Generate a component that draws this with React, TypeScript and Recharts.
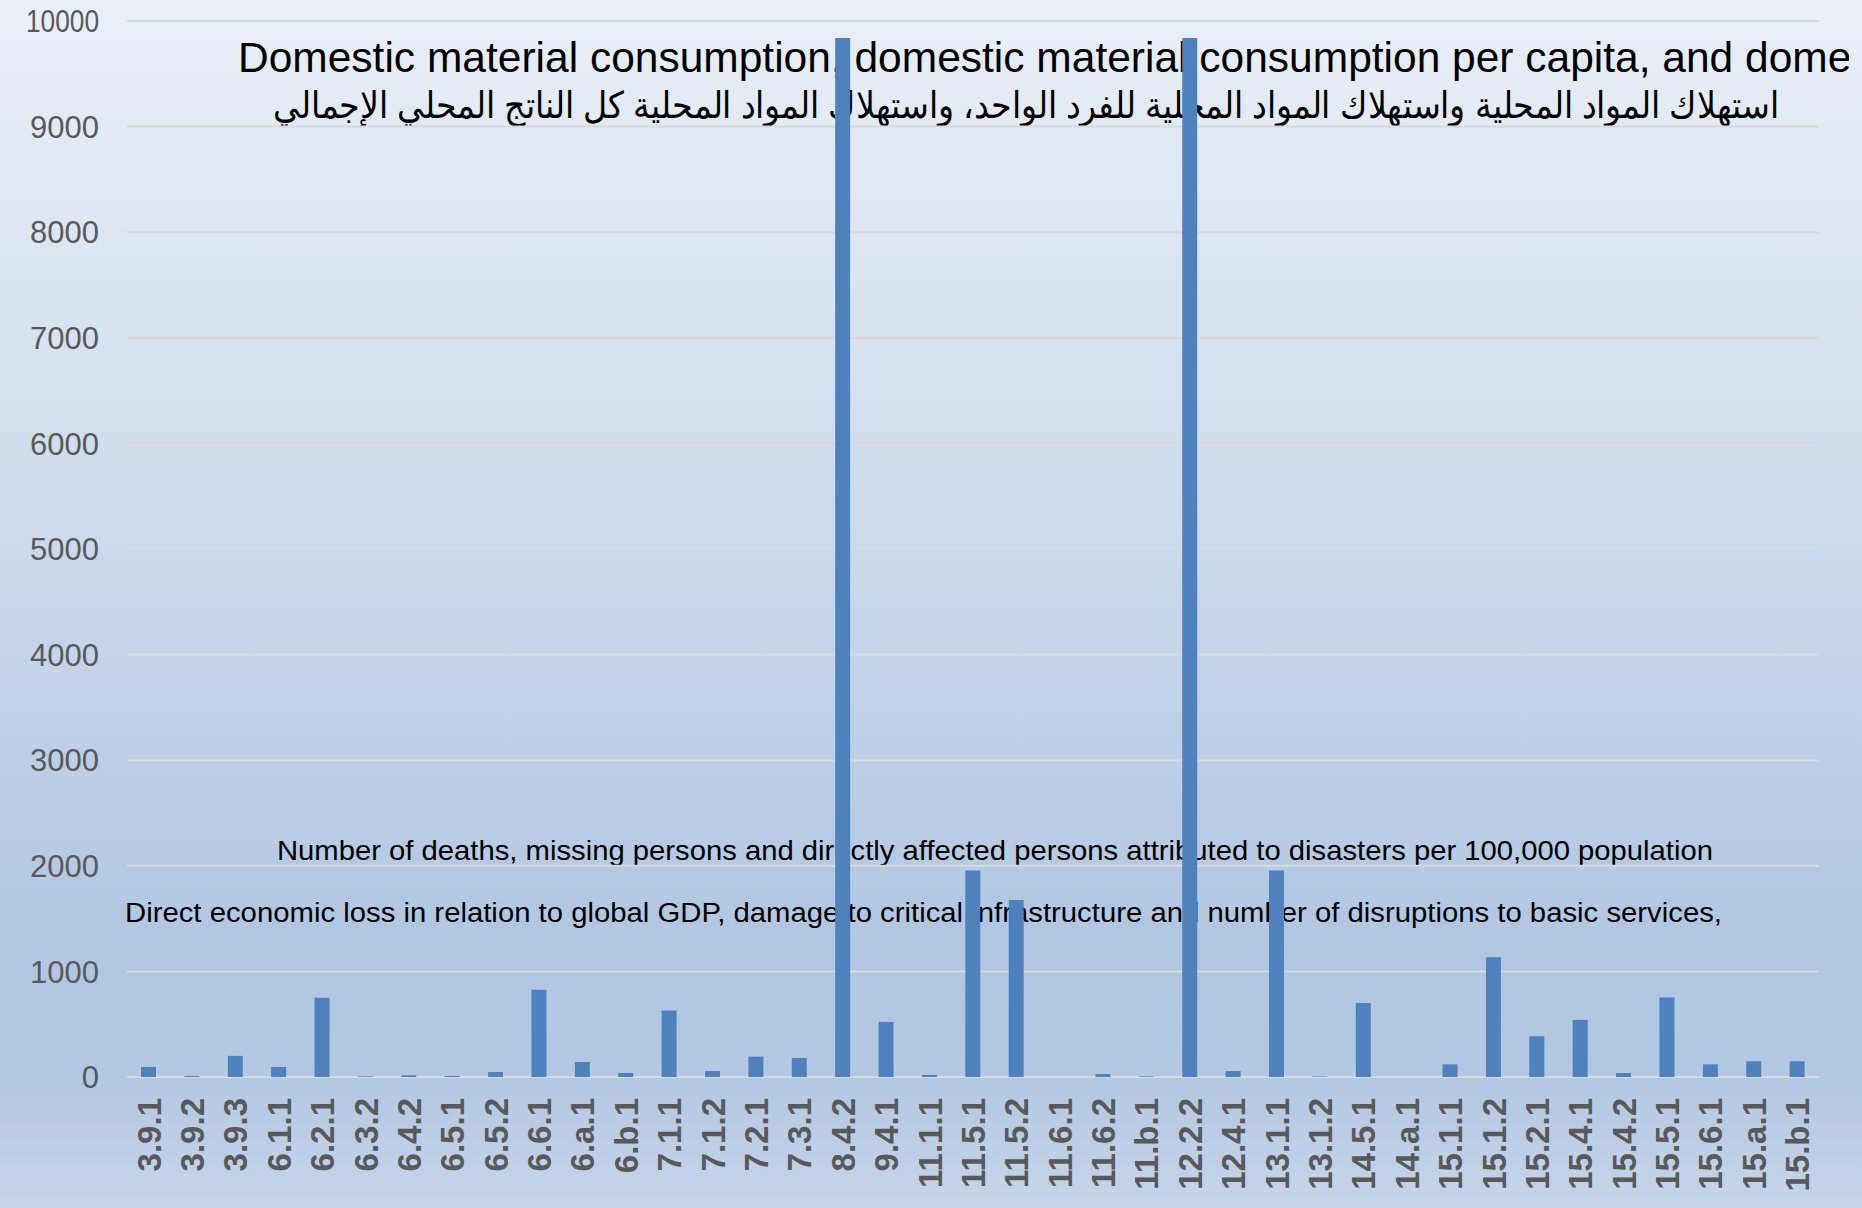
import { BarChart, Bar, XAxis, YAxis, CartesianGrid } from 'recharts'

const categories = [
  '3.9.1', '3.9.2', '3.9.3', '6.1.1', '6.2.1', '6.3.2', '6.4.2', '6.5.1', '6.5.2', '6.6.1',
  '6.a.1', '6.b.1', '7.1.1', '7.1.2', '7.2.1', '7.3.1', '8.4.2', '9.4.1', '11.1.1', '11.5.1',
  '11.5.2', '11.6.1', '11.6.2', '11.b.1', '12.2.2', '12.4.1', '13.1.1', '13.1.2', '14.5.1', '14.a.1',
  '15.1.1', '15.1.2', '15.2.1', '15.4.1', '15.4.2', '15.5.1', '15.6.1', '15.a.1', '15.b.1',
]

const values = [
  95, 10, 200, 95, 750, 6, 16, 10, 47, 826,
  142, 38, 630, 57, 193, 180, 9840, 522, 19, 1956,
  1675, 0, 28, 6, 9840, 57, 1956, 5, 700, 0,
  120, 1133, 386, 541, 38, 753, 120, 149, 149,
]

const yTicks = [0, 1000, 2000, 3000, 4000, 5000, 6000, 7000, 8000, 9000, 10000]

const titleEn =
  'Domestic material consumption, domestic material consumption per capita, and domestic material consumption per GDP'
const titleAr =
  'استهلاك المواد المحلية واستهلاك المواد المحلية للفرد الواحد، واستهلاك المواد المحلية كل الناتج المحلي الإجمالي'
const noteDeaths =
  'Number of deaths, missing persons and directly affected persons attributed to disasters per 100,000 population'
const noteLoss =
  'Direct economic loss in relation to global GDP, damage to critical infrastructure and number of disruptions to basic services,'

const data = categories.map((code, i) => ({ code, value: values[i] }))

const FONT = '"Liberation Sans", Arial, sans-serif'
const W = 1862
const H = 1208

function XTick({ x, y, payload }: any) {
  return (
    <text
      transform={`translate(${x},${y + 21}) rotate(-90)`}
      textAnchor="end"
      dy="0.36em"
      fill="#595959"
      fontSize={33}
      fontWeight="bold"
      fontFamily={FONT}
    >
      {payload.value}
    </text>
  )
}

function YTick({ x, y, payload }: any) {
  const label = String(payload.value)
  return (
    <text
      x={x}
      y={y}
      dy="0.36em"
      textAnchor="end"
      fill="#595959"
      fontSize={31}
      fontFamily={FONT}
      textLength={label.length > 4 ? 73 : undefined}
      lengthAdjust="spacingAndGlyphs"
    >
      {label}
    </text>
  )
}

export default function App() {
  return (
    <div
      style={{
        position: 'absolute',
        left: 0,
        top: 0,
        width: W,
        height: H,
        overflow: 'hidden',
        background:
          'linear-gradient(to bottom, #e9eff7 0%, #d6e1ef 30%, #c3d4e9 55%, #b0c6e1 78%, #b3c8e2 90%, #c6d6ea 100%)',
      }}
    >
      <svg width={1849} height={H} style={{ position: 'absolute', left: 0, top: 0 }}>
        <text x={238} y={72} fontSize={42.5} fontFamily={FONT} fill="#000">
          {titleEn}
        </text>
        <text
          x={273}
          y={118}
          fontSize={37}
          fontFamily={FONT}
          fill="#000"
          textLength={1506}
          lengthAdjust="spacingAndGlyphs"
        >
          {titleAr}
        </text>
        <text
          x={277}
          y={860}
          fontSize={28}
          fontFamily={FONT}
          fill="#000"
          textLength={1436}
          lengthAdjust="spacingAndGlyphs"
        >
          {noteDeaths}
        </text>
        <text
          x={125}
          y={922}
          fontSize={27}
          fontFamily={FONT}
          fill="#000"
          textLength={1597}
          lengthAdjust="spacingAndGlyphs"
        >
          {noteLoss}
        </text>
      </svg>
      <div style={{ position: 'absolute', left: 0, top: 0 }}>
        <BarChart width={W} height={H} data={data} margin={{ top: 21, right: 43, bottom: 0, left: 0 }}>
          <CartesianGrid vertical={false} stroke="#d9d9d9" strokeWidth={2} />
          <XAxis
            dataKey="code"
            interval={0}
            height={131}
            tickLine={false}
            tickSize={0}
            tickMargin={0}
            axisLine={false}
            tick={<XTick />}
          />
          <YAxis
            domain={[0, 10000]}
            ticks={yTicks}
            width={127}
            axisLine={false}
            tickLine={false}
            tickSize={0}
            tickMargin={28}
            tick={<YTick />}
          />
          <Bar dataKey="value" fill="#4f81bd" barSize={15} isAnimationActive={false} />
        </BarChart>
      </div>
    </div>
  )
}
